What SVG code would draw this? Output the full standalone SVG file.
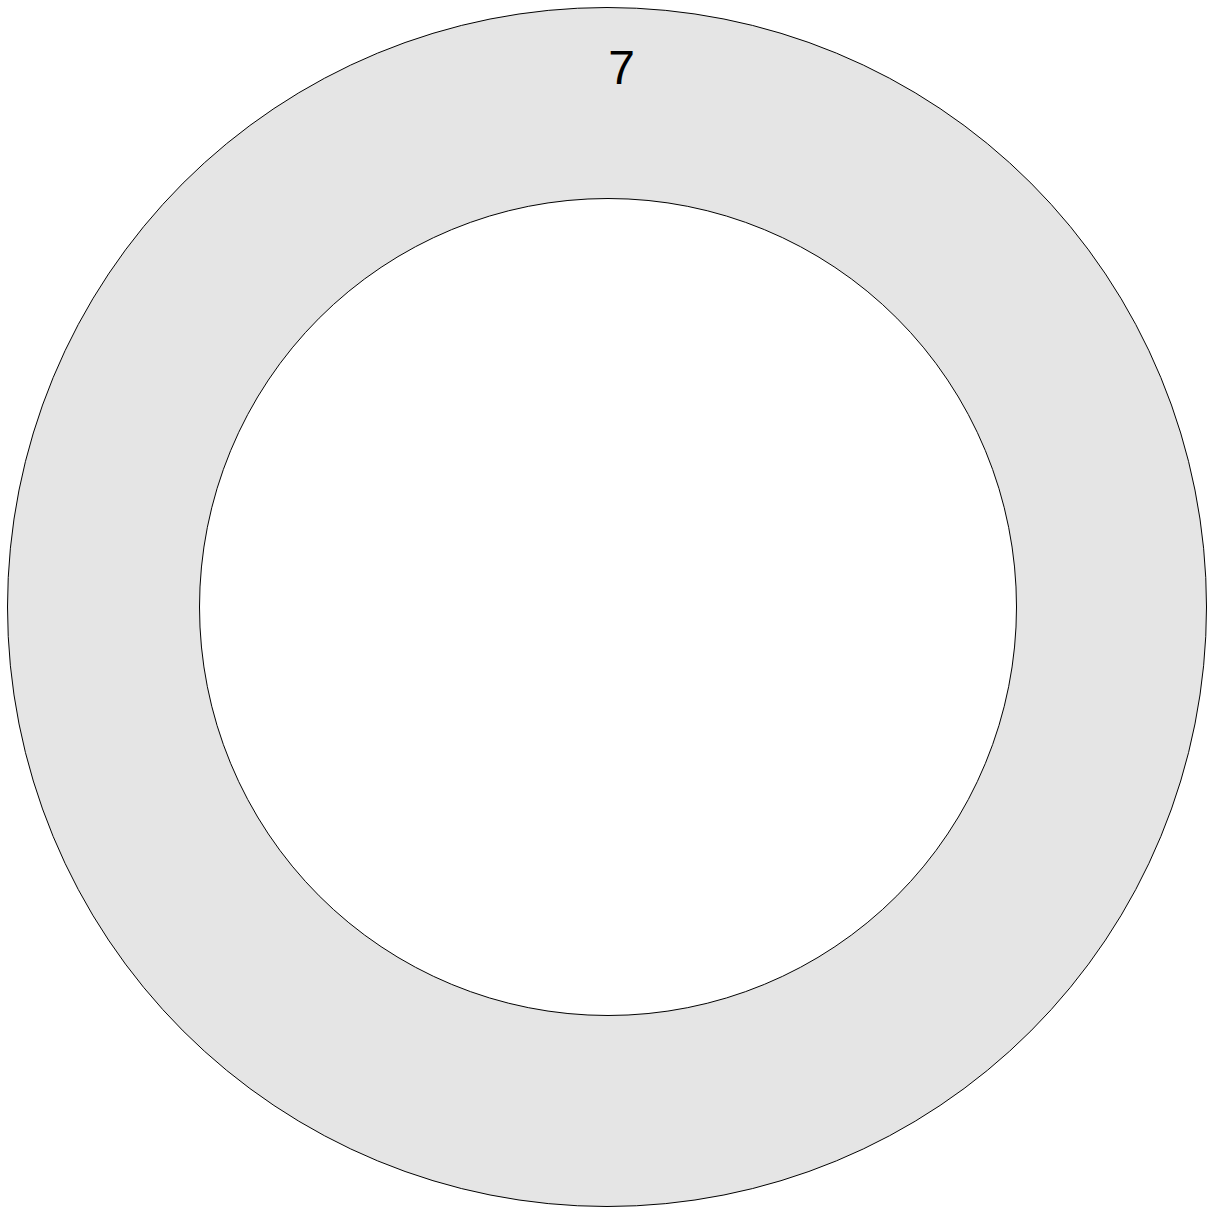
<svg xmlns="http://www.w3.org/2000/svg" width="1213" height="1209" viewBox="0 0 1213 1209">
<style>
.ring{fill:#e5e5e5;stroke:#000;stroke-width:1}
.hole{fill:#fff;stroke:#000;stroke-width:1}
.lbl{font-family:"Liberation Sans",Arial,sans-serif;font-size:48px;fill:#000;text-anchor:middle}
</style>
<rect width="1213" height="1209" fill="#fff"/>
<g id="node-7">
<circle class="ring" cx="607" cy="607" r="599.5"/>
<circle class="hole" cx="608" cy="607" r="408.5"/>
<text class="lbl" x="621.5" y="84">7</text>
</g>
<g id="connectors"></g>
</svg>
